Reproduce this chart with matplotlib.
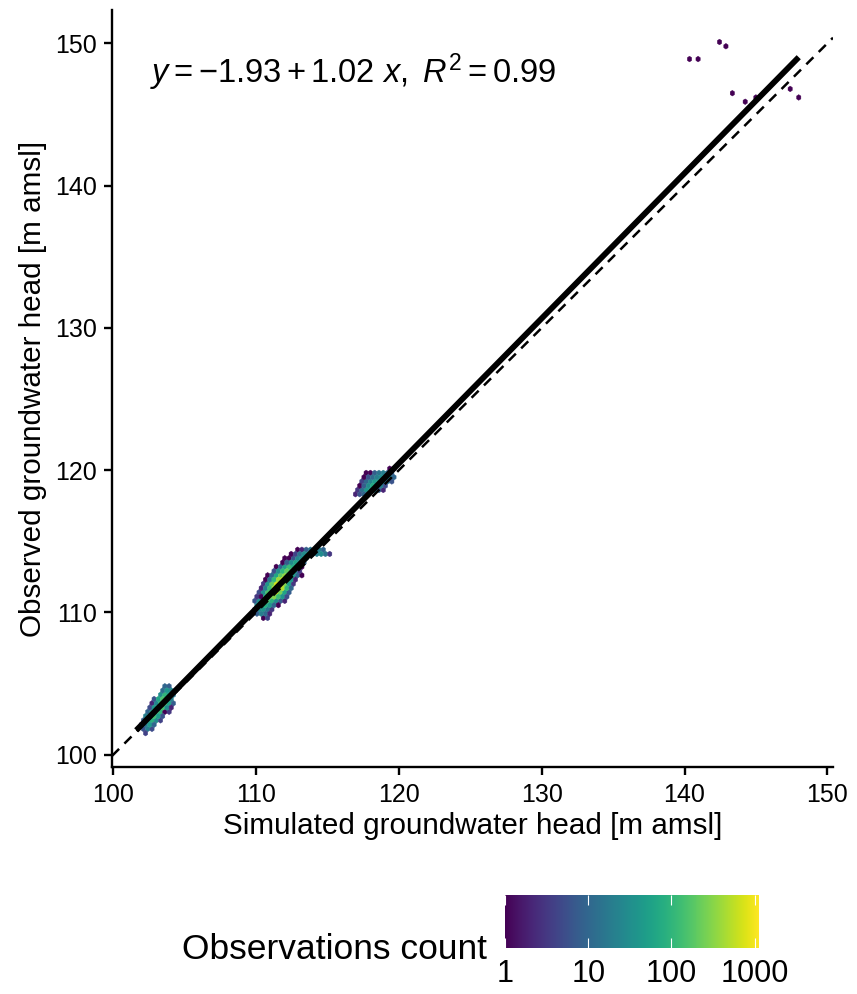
import numpy as np
import matplotlib
matplotlib.use('Agg')
import matplotlib.pyplot as plt
from matplotlib.colors import LogNorm

plt.rcParams['font.family'] = ['Liberation Sans', 'DejaVu Sans']
plt.rcParams['mathtext.fontset'] = 'custom'
plt.rcParams['mathtext.rm'] = 'Liberation Sans'
plt.rcParams['mathtext.it'] = 'Liberation Sans:italic'

# hex cells, one row per observed head level:
# (observed head, simulated head of the first cell, counts from left to right)
cluster_low = [
    (101.5, 102.35, [4]),
    (101.8, 102.2, [6, 20, 5]),
    (102.1, 102.05, [3, 15, 45, 10]),
    (102.4, 102.2, [8, 40, 90, 30, 4]),
    (102.7, 102.35, [20, 70, 130, 50, 6]),
    (103.0, 102.5, [10, 60, 150, 100, 1, 3]),
    (103.3, 102.65, [5, 40, 180, 140, 30, 2]),
    (103.6, 102.8, [2, 25, 120, 200, 60, 8]),
    (103.9, 102.95, [6, 60, 150, 90, 20]),
    (104.2, 103.4, [30, 100, 70, 15]),
    (104.5, 103.55, [12, 40, 25, 6]),
    (104.8, 103.7, [10, 8]),
]
cluster_mid = [
    (109.6, 110.4, [1, 4]),
    (109.9, 109.95, [8, 20, 12, 2]),
    (110.2, 109.8, [10, 30, 40, 15, 3]),
    (110.5, 109.95, [25, 60, 80, 40, 10, 1]),
    (110.8, 109.8, [6, 35, 100, 160, 90, 30, 8, 2]),
    (111.1, 109.95, [3, 1, 80, 250, 300, 120, 40, 5]),
    (111.4, 110.1, [5, 30, 150, 400, 600, 250, 60, 8]),
    (111.7, 110.25, [2, 20, 120, 450, 1100, 500, 100, 10]),
    (112.0, 110.4, [3, 40, 200, 700, 800, 300, 50, 3]),
    (112.3, 110.55, [1, 15, 100, 400, 600, 250, 40, 2]),
    (112.6, 110.7, [1, 10, 60, 200, 350, 200, 50, 10, 1]),
    (112.9, 111.15, [5, 30, 100, 200, 120, 30, 3]),
    (113.2, 111.3, [1, 10, 50, 120, 80, 20, 1]),
    (113.5, 111.75, [1, 8, 30, 60, 40, 10]),
    (113.8, 111.9, [1, 1, 6, 25, 35, 20]),
    (114.1, 112.35, [1, 4, 15, 30, 40, 25, 20, 30, 15, 3]),
    (114.4, 112.8, [1, 2, 8, 15, 12, 20, 10]),
]
cluster_high = [
    (118.3, 117.05, [2, 6, 10, 4]),
    (118.6, 117.2, [3, 12, 40, 60, 30, 8, 2]),
    (118.9, 117.35, [1, 8, 30, 70, 50, 20, 5]),
    (119.2, 117.5, [4, 10, 25, 45, 60, 30, 15, 6]),
    (119.5, 117.65, [1, 6, 12, 20, 30, 40, 25, 10]),
    (119.8, 117.8, [1, 1, 8, 15, 20, 12, 8]),
    (120.1, 119.35, [1, 1]),
]
# isolated single observations at the top right
outlier_sim = [140.24, 140.99, 142.49, 143.03, 143.42, 144.15, 145.06, 147.31, 148.06]
outlier_obs = [148.92, 148.92, 150.05, 149.74, 146.40, 145.84, 146.10, 146.68, 146.12]

# linear fit reported on the chart and the simulated range it covers
fit_intercept = -1.93
fit_slope = 1.02
fit_range = [101.6, 148.0]

hex_w = 0.3

sim, obs, cnt = [], [], []
for rows in (cluster_low, cluster_mid, cluster_high):
    for y0, x0, counts in rows:
        for i, c in enumerate(counts):
            sim.append(x0 + hex_w * i)
            obs.append(y0)
            cnt.append(c)
sim += outlier_sim
obs += outlier_obs
cnt += [1] * len(outlier_sim)

fig = plt.figure(figsize=(8.57, 9.94), dpi=100)
ax = fig.add_axes([112 / 857, 1 - 767.3 / 994, 721 / 857, 757.3 / 994])

norm = LogNorm(vmin=1, vmax=1125)
hb = ax.hexbin(sim, obs, C=cnt, reduce_C_function=np.sum,
               gridsize=(170, 85), extent=(100, 151, 100, 151),
               cmap='viridis', norm=norm, linewidths=0.3, edgecolors='face',
               zorder=2)

# 1:1 line
ax.axline((100, 100), slope=1, color='black', lw=1.8, ls=(0, (4, 3)), zorder=3)
fx = np.array(fit_range)
ax.plot(fx, fit_intercept + fit_slope * fx, color='black', lw=4.2,
        solid_capstyle='butt', zorder=4)

ax.text(102.56, 147.19, r'$y = -1.93 + 1.02\ x,\ R^2 = 0.99$',
        fontsize=23.5, ha='left', va='baseline')

ax.set_xlim(99.9, 150.4)
ax.set_ylim(99.1, 152.35)
ax.set_xticks([100, 110, 120, 130, 140, 150])
ax.set_yticks([100, 110, 120, 130, 140, 150])
for s in ['top', 'right']:
    ax.spines[s].set_visible(False)
for s in ['left', 'bottom']:
    ax.spines[s].set_linewidth(1.7)
ax.tick_params(length=6, width=1.7, labelsize=18, pad=5)
ax.set_xlabel('Simulated groundwater head [m amsl]', fontsize=21.3, labelpad=4)
ax.set_ylabel('Observed groundwater head [m amsl]', fontsize=21.3, labelpad=6)

cax = fig.add_axes([505 / 857, 1 - 947.5 / 994, 254 / 857, 52.5 / 994])
cb = fig.colorbar(hb, cax=cax, orientation='horizontal')
cb.outline.set_visible(False)
cb.set_ticks([1, 10, 100, 1000])
cb.set_ticklabels(['1', '10', '100', '1000'])
cb.minorticks_off()
cax.tick_params(direction='in', color='white', length=7, width=0.8,
                top=True, bottom=True, labelsize=22, pad=8)

fig.text(487 / 857, 1 - 959 / 994, 'Observations count', fontsize=25.5,
         ha='right', va='baseline')

fig.savefig('out.png', dpi=100)
